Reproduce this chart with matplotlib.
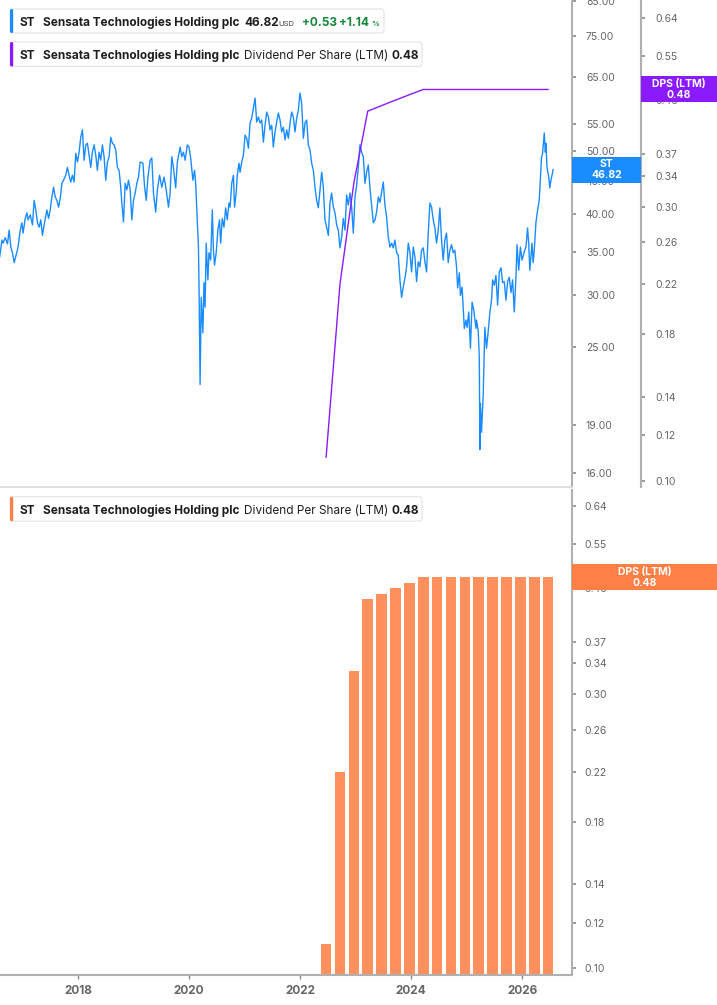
import matplotlib
matplotlib.use("Agg")
import matplotlib.pyplot as plt
from matplotlib.patches import Rectangle, FancyBboxPatch
from matplotlib.transforms import Affine2D
from matplotlib.ticker import FixedLocator, FuncFormatter, NullLocator

plt.rcParams['font.family'] = ['Inter', 'DejaVu Sans']

# --- ST daily close, decimal years ---
price_dates = [
    2016.59, 2016.63, 2016.65, 2016.69, 2016.73, 2016.76, 2016.79, 2016.82, 2016.85, 2016.90,
    2016.92, 2016.96, 2016.99, 2017.01, 2017.05, 2017.08, 2017.10, 2017.14, 2017.18, 2017.21,
    2017.24, 2017.27, 2017.30, 2017.33, 2017.36, 2017.39, 2017.44, 2017.47, 2017.50, 2017.53,
    2017.56, 2017.59, 2017.62, 2017.65, 2017.68, 2017.71, 2017.74, 2017.78, 2017.81, 2017.84,
    2017.87, 2017.90, 2017.93, 2017.96, 2017.99, 2018.02, 2018.05, 2018.08, 2018.11, 2018.14,
    2018.17, 2018.20, 2018.23, 2018.26, 2018.29, 2018.32, 2018.35, 2018.38, 2018.41, 2018.44,
    2018.47, 2018.50, 2018.53, 2018.56, 2018.59, 2018.62, 2018.65, 2018.68, 2018.71, 2018.74,
    2018.77, 2018.79, 2018.82, 2018.85, 2018.88, 2018.91, 2018.94, 2018.97, 2019.00, 2019.03,
    2019.06, 2019.09,
    2019.12, 2019.17, 2019.20, 2019.23, 2019.26, 2019.30, 2019.33, 2019.36, 2019.40, 2019.43,
    2019.47, 2019.51, 2019.55, 2019.59, 2019.63, 2019.66, 2019.69, 2019.72, 2019.76, 2019.79,
    2019.84, 2019.87, 2019.90, 2019.93, 2019.97, 2020.00, 2020.03, 2020.07, 2020.10, 2020.12,
    2020.15, 2020.17, 2020.18, 2020.20, 2020.22, 2020.25, 2020.27, 2020.29, 2020.31, 2020.34,
    2020.36, 2020.39, 2020.42, 2020.44, 2020.46, 2020.49, 2020.52, 2020.55, 2020.57, 2020.60,
    2020.63, 2020.66, 2020.69, 2020.72, 2020.74, 2020.77, 2020.80, 2020.82, 2020.85, 2020.87,
    2020.90, 2020.92, 2020.95, 2020.98, 2021.01, 2021.04, 2021.07, 2021.10, 2021.13, 2021.16,
    2021.19, 2021.22, 2021.25, 2021.28, 2021.31, 2021.34, 2021.37, 2021.40, 2021.43, 2021.46,
    2021.49, 2021.52, 2021.55, 2021.58, 2021.61, 2021.64, 2021.67, 2021.70, 2021.73, 2021.76,
    2021.79, 2021.82, 2021.85, 2021.88, 2021.91, 2021.94, 2021.97, 2022.00,
    2022.03, 2022.06, 2022.09, 2022.12, 2022.15, 2022.18, 2022.21, 2022.24, 2022.27, 2022.30,
    2022.33, 2022.36, 2022.39, 2022.42, 2022.45, 2022.48, 2022.51, 2022.54, 2022.57, 2022.60,
    2022.63, 2022.66, 2022.69, 2022.72, 2022.75, 2022.78, 2022.81, 2022.84, 2022.87, 2022.90,
    2022.93, 2022.96, 2022.99, 2023.02, 2023.05, 2023.08, 2023.11, 2023.14, 2023.17, 2023.20,
    2023.23, 2023.26, 2023.29, 2023.32, 2023.35, 2023.38, 2023.41, 2023.44, 2023.47, 2023.50,
    2023.53, 2023.56, 2023.59, 2023.62, 2023.65, 2023.68, 2023.71, 2023.74, 2023.77, 2023.80,
    2023.83, 2023.86, 2023.89, 2023.92, 2023.95, 2023.98, 2024.01, 2024.04, 2024.07, 2024.10,
    2024.13, 2024.16, 2024.19, 2024.22, 2024.25, 2024.28, 2024.31,
    2024.34, 2024.37, 2024.40, 2024.43, 2024.46, 2024.49, 2024.52, 2024.55, 2024.58, 2024.61,
    2024.64, 2024.67, 2024.70, 2024.73, 2024.76, 2024.79, 2024.82, 2024.84, 2024.87, 2024.89,
    2024.92, 2024.94, 2024.96, 2024.99, 2025.01, 2025.04, 2025.07, 2025.10, 2025.13, 2025.17,
    2025.18, 2025.21, 2025.23, 2025.24, 2025.25, 2025.27, 2025.30, 2025.33, 2025.36, 2025.39,
    2025.42, 2025.45, 2025.47, 2025.50, 2025.53, 2025.56, 2025.59, 2025.62, 2025.65, 2025.68,
    2025.71, 2025.74, 2025.77, 2025.80, 2025.83, 2025.86, 2025.89, 2025.91, 2025.94, 2025.97,
    2026.00, 2026.04, 2026.07, 2026.10, 2026.12, 2026.14, 2026.18, 2026.20, 2026.22, 2026.25,
    2026.28, 2026.31, 2026.33, 2026.35, 2026.37, 2026.40, 2026.42, 2026.43, 2026.45, 2026.48,
    2026.50, 2026.52, 2026.54, 2026.56,
]
price_values = [
    34.4, 36.5, 36.1, 36.8, 36.0, 37.8, 35.6, 34.9, 33.7, 35.0,
    35.6, 37.8, 38.8, 37.4, 39.4, 40.2, 39.2, 39.9, 38.5, 42.0,
    40.6, 38.8, 38.2, 39.2, 37.1, 38.5, 40.6, 39.4, 40.6, 42.5,
    44.0, 42.5, 42.0, 41.0, 42.3, 44.6, 45.1, 45.9, 47.2, 45.9,
    44.8, 45.9, 44.8, 49.6, 48.1, 49.8, 52.5, 53.9, 48.4, 51.1,
    51.4, 49.3, 47.2, 49.8, 51.1, 49.3, 46.7, 49.8, 48.4, 51.1,
    49.0, 45.1, 48.1, 49.0, 52.5, 51.4, 51.1, 50.2, 47.2, 46.7,
    44.0, 41.6, 38.9, 44.6, 43.6, 45.1, 43.6, 39.2, 42.0, 43.1,
    44.6, 45.6,
    48.1, 47.9, 44.0, 42.0, 45.6, 48.4, 48.8, 43.1, 40.3, 43.6,
    45.9, 44.0, 45.6, 43.6, 41.0, 43.1, 49.0, 47.1, 43.9, 48.1,
    50.7, 49.0, 49.8, 48.4, 51.1, 50.7, 48.8, 45.1, 46.7, 44.6,
    38.8, 35.6, 31.4, 21.9, 29.8, 26.3, 31.4, 28.8, 36.1, 31.7,
    34.9, 34.0, 40.6, 35.2, 33.4, 34.9, 37.8, 39.2, 36.1, 39.4,
    38.2, 40.9, 39.2, 41.6, 41.0, 44.6, 45.9, 41.0, 43.1, 45.9,
    47.9, 46.4, 48.1, 49.3, 52.9, 52.3, 50.5, 55.2, 56.2, 58.2,
    60.3, 55.4, 56.4, 55.2, 55.8, 51.6, 54.8, 57.4, 56.4, 53.9,
    54.8, 50.7, 53.5, 55.4, 57.2, 55.8, 53.5, 54.4, 52.0, 53.9,
    52.3, 55.2, 57.4, 56.4, 53.5, 56.2, 57.8, 61.4,
    59.2, 52.3, 55.2, 55.8, 51.1, 50.2, 47.9, 46.7, 44.0, 42.0,
    40.9, 43.6, 46.4, 44.0, 39.2, 38.2, 37.1, 41.6, 43.1, 41.0,
    40.2, 38.5, 37.8, 35.5, 36.9, 39.4, 37.8, 42.8, 41.3, 43.1,
    41.0, 37.4, 42.5, 44.3, 47.2, 51.1, 49.8, 49.0, 44.6, 46.4,
    47.6, 43.9, 41.3, 38.8, 39.2, 40.3, 42.5, 41.7, 43.2, 44.8,
    41.3, 39.6, 36.9, 35.6, 36.1, 35.5, 36.5, 34.9, 34.6, 31.7,
    29.8, 30.9, 31.9, 33.2, 36.1, 34.9, 32.6, 35.6, 34.4, 31.5,
    33.8, 33.2, 35.2, 35.5, 33.8, 32.6, 37.4,
    41.6, 41.0, 39.2, 38.1, 36.1, 37.8, 40.9, 36.5, 34.0, 36.5,
    37.4, 33.7, 35.2, 35.9, 34.9, 35.2, 33.2, 30.8, 32.5, 30.0,
    30.9, 28.8, 26.7, 27.5, 26.8, 28.3, 24.9, 29.3, 28.5, 26.7,
    27.5, 26.5, 24.1, 17.4, 20.5, 18.5, 21.1, 26.8, 24.9, 26.4,
    28.2, 29.5, 31.7, 31.1, 32.2, 29.0, 32.6, 33.1, 31.4, 31.5,
    29.5, 31.5, 32.0, 30.3, 31.7, 28.3, 32.0, 35.9, 32.8, 35.6,
    34.0, 35.0, 35.6, 38.1, 36.1, 32.8, 36.1, 33.7, 35.2, 38.8,
    40.6, 42.0, 45.4, 48.8, 49.6, 53.3, 49.8, 51.4, 47.2, 45.6,
    43.9, 45.1, 45.9, 46.82,
]

# --- Dividend per share (LTM), quarterly ---
dps_dates = [2022.47, 2022.72, 2022.97, 2023.22, 2023.47, 2023.72, 2023.97, 2024.22, 2024.47,
             2024.72, 2024.97, 2025.22, 2025.47, 2025.72, 2025.97, 2026.22, 2026.47]
dps_values = [0.11, 0.22, 0.33, 0.44, 0.45, 0.46, 0.47, 0.48, 0.48,
              0.48, 0.48, 0.48, 0.48, 0.48, 0.48, 0.48, 0.48]

price_ticks = [16, 19, 25, 30, 35, 40, 45, 50, 55, 65, 75, 85]
dps_ticks = [0.10, 0.12, 0.14, 0.18, 0.22, 0.26, 0.30, 0.34, 0.37, 0.46, 0.55, 0.64]
year_ticks = [2018, 2020, 2022, 2024, 2026]

last_price = 46.82
last_dps = 0.48

BLUE = '#1a8cff'
PURPLE = '#8c1aff'
ORANGE = '#ff8f5c'
ORANGE_TAG = '#ff7f45'
AXIS = '#b0b0b0'
TXT = '#666666'

W, H = 717, 1005
fig = plt.figure(figsize=(W / 100, H / 100), dpi=100)
# reference pixel coords (origin top-left) -> figure
ref = Affine2D().scale(1.0 / W, -1.0 / H).translate(0, 1) + fig.transFigure


def axes_box(x0, y0, x1, y1):
    return [x0 / W, 1 - y1 / H, (x1 - x0) / W, (y1 - y0) / H]


def style_y(axis, ticks, fmt, pad):
    axis.set_yscale('log')
    axis.yaxis.set_major_locator(FixedLocator(ticks))
    axis.yaxis.set_major_formatter(FuncFormatter(lambda v, p: fmt.format(v)))
    axis.yaxis.set_minor_locator(NullLocator())
    axis.yaxis.set_ticks_position('right')
    axis.yaxis.set_label_position('right')
    axis.tick_params(axis='y', which='both', left=False, labelleft=False,
                     right=True, labelright=True, direction='out', length=3,
                     width=1.2, color='#8a8a8a', labelsize=7.5, labelcolor=TXT, pad=pad)


x_lo, x_hi = 2016.595, 2026.90

# top panel: price + DPS line
ax = fig.add_axes(axes_box(0, 0, 572, 487))
ax.plot(price_dates, price_values, color=BLUE, lw=1.0)
ax2 = ax.twinx()   # twinx moves ax ticks to the left, so style afterwards
ax2.plot(dps_dates, dps_values, color=PURPLE, lw=1.0)

style_y(ax, price_ticks, '{:.2f}', 7)
ax.set_ylim(15.24, 85.3)
ax.set_xlim(x_lo, x_hi)
ax.tick_params(axis='x', bottom=False, labelbottom=False)
for s in ['top', 'left']:
    ax.spines[s].set_visible(False)
ax.spines['right'].set_color(AXIS)
ax.spines['right'].set_linewidth(1.5)
ax.spines['bottom'].set_color('#dcdcdc')
ax.spines['bottom'].set_linewidth(1.3)

style_y(ax2, dps_ticks, '{:.2f}', 7)
ax2.set_ylim(0.0976, 0.687)
for s in ['top', 'left', 'bottom']:
    ax2.spines[s].set_visible(False)
ax2.spines['right'].set_position(('axes', 641 / 572))
ax2.spines['right'].set_color(AXIS)
ax2.spines['right'].set_linewidth(1.5)

# bottom panel: DPS bars
axb = fig.add_axes(axes_box(0, 490, 572, 975))
axb.bar(dps_dates, dps_values, width=0.193, color=ORANGE)
style_y(axb, dps_ticks, '{:.2f}', 6)
axb.set_ylim(0.0972, 0.682)
axb.set_xlim(x_lo, x_hi)
axb.set_xticks(year_ticks)
axb.set_xticklabels([str(y) for y in year_ticks], fontweight='bold')
axb.tick_params(axis='x', direction='out', length=3, width=1, color='#8a8a8a',
                labelsize=8.5, labelcolor=TXT, pad=4)
for s in ['top', 'left']:
    axb.spines[s].set_visible(False)
for s in ['right', 'bottom']:
    axb.spines[s].set_color(AXIS)
    axb.spines[s].set_linewidth(1.5)


def value_tag(axis, value, x0, x1, color, lines):
    yc = H - axis.transData.transform((x_lo, value))[1]
    fig.patches.append(Rectangle((x0, yc - 13), x1 - x0, 26, transform=ref,
                                 facecolor=color, edgecolor='none', zorder=5))
    for k, s in enumerate(lines):
        fig.text((x0 + x1) / 2, yc - 5.5 + 11 * k, s, transform=ref, ha='center',
                 va='center', color='white', fontsize=7.5, fontweight='bold', zorder=6)


value_tag(ax, last_price, 572, 641, BLUE, ['ST', f'{last_price:.2f}'])
value_tag(ax2, last_dps, 641, 717, PURPLE, ['DPS (LTM)', f'{last_dps:.2f}'])
value_tag(axb, last_dps, 572, 717, ORANGE_TAG, ['DPS (LTM)', f'{last_dps:.2f}'])


def legend_box(y0, y1, x1, color):
    fig.patches.append(FancyBboxPatch((10, y0), x1 - 10, y1 - y0,
                                      boxstyle='round,pad=0,rounding_size=3', transform=ref,
                                      facecolor='white', edgecolor='#e4e4e4', lw=0.8, zorder=4))
    fig.patches.append(FancyBboxPatch((10, y0), 3.2, y1 - y0,
                                      boxstyle='round,pad=0,rounding_size=1.5', transform=ref,
                                      facecolor=color, edgecolor='none', zorder=5))


def put(x, y, s, size=8.5, weight='bold', color='#1f1f1f'):
    fig.text(x, y, s, transform=ref, ha='left', va='baseline', fontsize=size,
             fontweight=weight, color=color, zorder=6)


GREEN = '#16873a'
legend_box(9, 33, 384, BLUE)
put(20, 26, 'ST')
put(43, 26, 'Sensata Technologies Holding plc')
put(244, 26, f'{last_price:.2f}')
put(278, 26, 'USD', size=5.5, weight='normal', color='#444444')
put(302, 26, '+0.53', color=GREEN)
put(339, 26, '+1.14', color=GREEN)
put(371, 26, '%', size=5.5, color=GREEN)

for top, color in [(42, PURPLE), (496.7, ORANGE_TAG)]:
    legend_box(top, top + 24.5, 422, color)
    base = top + 17.2
    put(20, base, 'ST')
    put(43, base, 'Sensata Technologies Holding plc')
    put(244, base, 'Dividend Per Share (LTM)', weight='normal')
    put(391, base, f'{last_dps:.2f}')

fig.savefig('out.png', dpi=100)
